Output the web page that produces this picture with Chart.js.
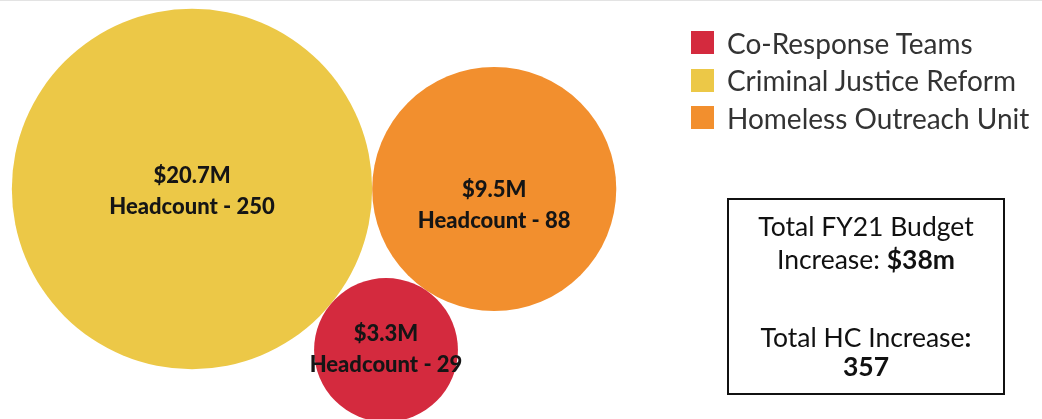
<!DOCTYPE html>
<html>
<head>
<meta charset="utf-8">
<script src="https://cdn.jsdelivr.net/npm/chart.js@4"></script>
<style>
    body { margin: 0; background: #fff; }
    #wrap { position: relative; width: 1042px; height: 419px; border-top: 1px solid #e3e3e3; box-sizing: border-box; overflow: hidden; }
    #wrap canvas { position: absolute; left: 0; top: 0; }
    .legend { position: absolute; left: 691px; top: 23px; font-family: Lato, sans-serif; font-size: 28px; color: #333; }
    .legend div { height: 37.5px; display: flex; align-items: center; white-space: nowrap; }
    .legend span { display: inline-block; width: 23px; height: 23px; margin-right: 13px; flex: none; }
    .total { position: absolute; left: 727px; top: 197px; width: 274px; height: 193px; border: 2px solid #111; font-family: Lato, sans-serif; font-size: 26.5px; color: #111; box-sizing: content-box; }
    .total div { position: absolute; left: 0; width: 100%; text-align: center; line-height: 30px; }
</style>
</head>
<body>
<div id="wrap">
    <canvas id="chart" width="1042" height="419"></canvas>
    <div class="legend" id="legend"></div>
    <div class="total">
        <div style="top:11px">Total FY21 Budget</div>
        <div style="top:44px">Increase: <b>$38m</b></div>
        <div style="top:122px">Total HC Increase<b>:</b></div>
        <div style="top:151px"><b>357</b></div>
    </div>
</div>
<script>
const categories = ['Co-Response Teams', 'Criminal Justice Reform', 'Homeless Outreach Unit']
const budgets = [3.3, 20.7, 9.5]         // $M
const headcounts = [29, 250, 88]
const colors = ['#d42a3e', '#ecc847', '#f28f2e']
const labelShift = [-3, 0, 14]           // vertical nudge of the text inside each bubble

const canvas = document.getElementById('chart')
const W = 1042, H = 419

// bubble radius from budget (area proportional to value)
const k = 39.6
const radii = budgets.map(b => k * Math.sqrt(b))

// simple packing: biggest at left, next tangent to its right, smallest tangent to both below
function packBubbles() {
    const order = budgets.map((b, i) => i).sort((a, b) => budgets[b] - budgets[a])
    const pos = []
    const [a, b, c] = order
    const A = { x: 192, y: 188 }
    const B = { x: A.x + radii[a] + radii[b], y: A.y }
    const rAC = radii[a] + radii[c], rBC = radii[b] + radii[c]
    const d = B.x - A.x
    const along = (d * d + rAC * rAC - rBC * rBC) / (2 * d)
    const h = Math.sqrt(rAC * rAC - along * along)
    pos[a] = A
    pos[b] = B
    pos[c] = { x: A.x + along, y: A.y + h }
    return pos
}
const positions = packBubbles()

function getDatasets() {
    const datasets = []
    for (let i = 0; i < categories.length; i++) {
        datasets.push({
            label: categories[i],
            data: [{ x: positions[i].x, y: positions[i].y, r: radii[i] }],
            backgroundColor: colors[i],
            borderWidth: 0,
            hoverBorderWidth: 0,
            clip: false
        })
    }
    return datasets
}

const bubbleLabels = {
    id: 'bubbleLabels',
    afterDatasetsDraw(chart) {
        const ctx = chart.ctx
        ctx.save()
        ctx.fillStyle = '#151515'
        ctx.textAlign = 'center'
        ctx.textBaseline = 'middle'
        ctx.font = '900 22px Lato, sans-serif'
        chart.data.datasets.forEach((ds, i) => {
            const el = chart.getDatasetMeta(i).data[0]
            const y = el.y + labelShift[i]
            ctx.fillText(`$${budgets[i]}M`, el.x, y - 13)
            ctx.fillText(`Headcount - ${headcounts[i]}`, el.x, y + 18)
        })
        ctx.restore()
    }
}

new Chart(canvas, {
    type: 'bubble',
    data: { datasets: getDatasets() },
    options: {
        responsive: false,
        animation: false,
        events: [],
        layout: { padding: 0, autoPadding: false },
        plugins: { legend: { display: false }, tooltip: { enabled: false } },
        scales: {
            x: { type: 'linear', min: 0, max: W, display: false },
            y: { type: 'linear', min: 0, max: H, reverse: true, display: false }
        }
    },
    plugins: [bubbleLabels]
})

const legend = document.getElementById('legend')
categories.forEach((c, i) => {
    const row = document.createElement('div')
    row.innerHTML = `<span style="background:${colors[i]}"></span>${c}`
    legend.appendChild(row)
})
</script>
</body>
</html>
